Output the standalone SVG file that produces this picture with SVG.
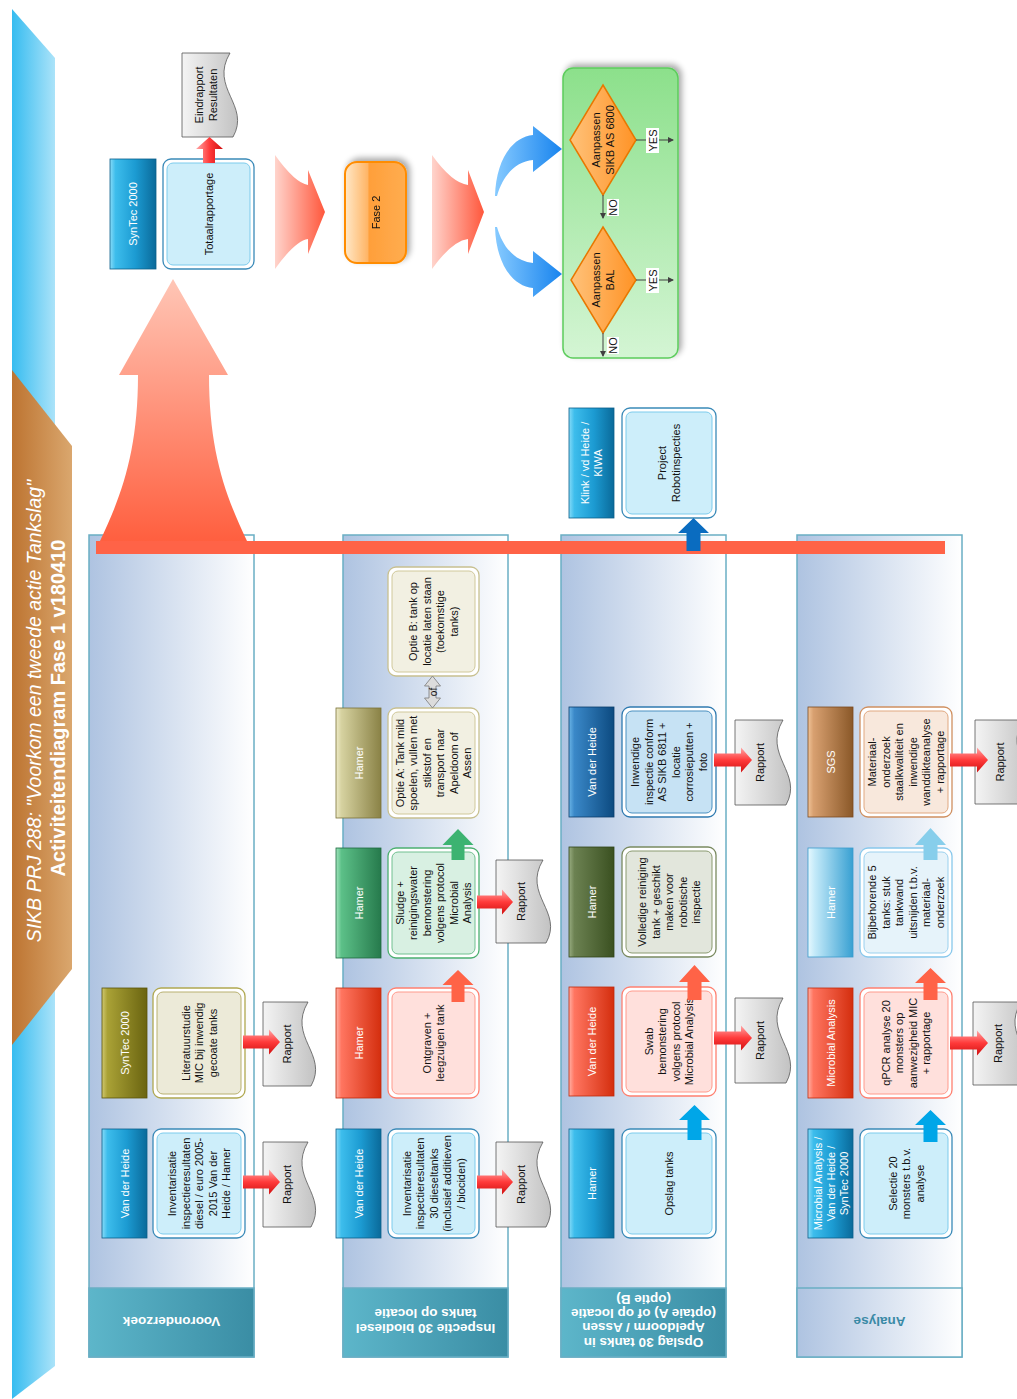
<svg xmlns="http://www.w3.org/2000/svg" width="1017" height="1399" viewBox="0 0 1017 1399">
<defs>
<linearGradient id="gBand" x1="0" x2="1" y1="0" y2="0"><stop offset="0" stop-color="#36bcf0"/><stop offset="1" stop-color="#abe3f9"/></linearGradient>
<linearGradient id="gBrown" x1="0" x2="1" y1="0" y2="0"><stop offset="0" stop-color="#bd7431"/><stop offset="1" stop-color="#daa76e"/></linearGradient>
<linearGradient id="gLane" x1="0" x2="1" y1="0" y2="0"><stop offset="0" stop-color="#aec3e1"/><stop offset="1" stop-color="#ffffff"/></linearGradient>
<linearGradient id="gHead" x1="0" x2="1" y1="0" y2="0"><stop offset="0" stop-color="#5db6ca"/><stop offset="1" stop-color="#3a8da4"/></linearGradient>
<linearGradient id="lBlue" x1="0" x2="1" y1="0" y2="0"><stop offset="0" stop-color="#86dbf8"/><stop offset="0.12" stop-color="#3dbdec"/><stop offset="0.55" stop-color="#1c9bd2"/><stop offset="1" stop-color="#0a6a9a"/></linearGradient>
<linearGradient id="lOlive" x1="0" x2="1" y1="0" y2="0"><stop offset="0" stop-color="#d0c870"/><stop offset="0.12" stop-color="#aaa236"/><stop offset="1" stop-color="#6a6410"/></linearGradient>
<linearGradient id="lRed" x1="0" x2="1" y1="0" y2="0"><stop offset="0" stop-color="#ffb0a4"/><stop offset="0.12" stop-color="#ff7560"/><stop offset="1" stop-color="#d42e0e"/></linearGradient>
<linearGradient id="lGreen" x1="0" x2="1" y1="0" y2="0"><stop offset="0" stop-color="#a0e4bc"/><stop offset="0.12" stop-color="#5cc088"/><stop offset="1" stop-color="#267a4c"/></linearGradient>
<linearGradient id="lKhaki" x1="0" x2="1" y1="0" y2="0"><stop offset="0" stop-color="#eeebc8"/><stop offset="0.12" stop-color="#d6d2a0"/><stop offset="1" stop-color="#8a8246"/></linearGradient>
<linearGradient id="lDkOlive" x1="0" x2="1" y1="0" y2="0"><stop offset="0" stop-color="#98ac80"/><stop offset="0.12" stop-color="#6c8252"/><stop offset="1" stop-color="#3a5020"/></linearGradient>
<linearGradient id="lDkBlue" x1="0" x2="1" y1="0" y2="0"><stop offset="0" stop-color="#6ab4e6"/><stop offset="0.12" stop-color="#3a88c8"/><stop offset="1" stop-color="#0c4a80"/></linearGradient>
<linearGradient id="lLtBlue" x1="0" x2="1" y1="0" y2="0"><stop offset="0" stop-color="#e6f8fe"/><stop offset="0.15" stop-color="#c4eaf9"/><stop offset="1" stop-color="#38a0d2"/></linearGradient>
<linearGradient id="lBrown" x1="0" x2="1" y1="0" y2="0"><stop offset="0" stop-color="#f0c498"/><stop offset="0.12" stop-color="#d8a070"/><stop offset="1" stop-color="#8a5828"/></linearGradient>
<linearGradient id="gDoc" x1="0" x2="1" y1="0" y2="0"><stop offset="0" stop-color="#f4f4f4"/><stop offset="1" stop-color="#c2c2c2"/></linearGradient>
<linearGradient id="gRed" x1="0" x2="0" y1="0" y2="1"><stop offset="0" stop-color="#ffa8a8"/><stop offset="0.5" stop-color="#ff3a3a"/><stop offset="1" stop-color="#d01010"/></linearGradient>
<linearGradient id="gRedV" x1="0" x2="1" y1="0" y2="0"><stop offset="0" stop-color="#ffa8a8"/><stop offset="0.5" stop-color="#ff3a3a"/><stop offset="1" stop-color="#d01010"/></linearGradient>
<linearGradient id="gPink" x1="0" x2="1" y1="0" y2="0"><stop offset="0" stop-color="#ffd4cc"/><stop offset="1" stop-color="#ff573c"/></linearGradient>
<linearGradient id="gBig" x1="0" x2="0" y1="0" y2="1"><stop offset="0" stop-color="#ffc6b6"/><stop offset="1" stop-color="#ff5f3f"/></linearGradient>
<linearGradient id="gBlueArr" x1="0" x2="1" y1="0" y2="0"><stop offset="0" stop-color="#86caff"/><stop offset="1" stop-color="#1884ee"/></linearGradient>
<linearGradient id="gFase" x1="0" x2="1" y1="0" y2="0"><stop offset="0" stop-color="#ffe8c8"/><stop offset="0.38" stop-color="#ffb464"/><stop offset="0.39" stop-color="#ff9f3a"/><stop offset="1" stop-color="#ffad50"/></linearGradient>
<linearGradient id="gGreen" x1="0" x2="0" y1="0" y2="1"><stop offset="0" stop-color="#8ce08b"/><stop offset="1" stop-color="#d4f5d4"/></linearGradient>
<linearGradient id="gDiam" x1="0" x2="1" y1="0" y2="0"><stop offset="0" stop-color="#ffc27a"/><stop offset="1" stop-color="#ff9326"/></linearGradient>
<filter id="sh" x="-20%" y="-20%" width="140%" height="140%"><feGaussianBlur in="SourceAlpha" stdDeviation="3"/><feOffset dx="3" dy="-3"/><feComponentTransfer><feFuncA type="linear" slope="0.35"/></feComponentTransfer><feMerge><feMergeNode/><feMergeNode in="SourceGraphic"/></feMerge></filter>
<marker id="ah" markerWidth="6" markerHeight="6" refX="5" refY="3" orient="auto" markerUnits="userSpaceOnUse"><path d="M0,0 L6,3 L0,6 Z" fill="#404040"/></marker>
<style>
.lane{fill:url(#gLane);stroke:#6aaec4;stroke-width:1.5}
.lhead{fill:url(#gHead);stroke:#6aaec4;stroke-width:1.5}
.lbl{stroke-width:0.8}
.ob{fill:#fff;stroke-width:1.3}
.ib{stroke-width:1}
.doc{fill:url(#gDoc);stroke:#555;stroke-width:0.8}
.ra{fill:url(#gRed)}
.t{font-family:"Liberation Sans",Arial,sans-serif;font-size:11px;fill:#111;text-anchor:middle}
.lt{font-family:"Liberation Sans",Arial,sans-serif;font-size:11px;fill:#fff;text-anchor:middle}
.ht{font-family:"Liberation Sans",Arial,sans-serif;font-size:13.5px;font-weight:bold;fill:#fff;text-anchor:middle}
.yn{font-family:"Liberation Sans",Arial,sans-serif;font-size:11px;fill:#111;text-anchor:middle}
.ln{fill:none;stroke:#404040;stroke-width:1}
</style>
</defs>

<g id="title-banner">
<polygon points="12,9 55,58 55,1366 12,1399" fill="url(#gBand)"/>
<polygon points="12,370 72,446 72,969 12,1045" fill="url(#gBrown)"/>
<text transform="translate(41,711) rotate(-90)" font-family="Liberation Sans, Arial, sans-serif" font-size="19.5" font-style="italic" fill="#fff" text-anchor="middle">SIKB PRJ 288: &quot;Voorkom een tweede actie Tankslag&quot;</text>
<text transform="translate(65,708) rotate(-90)" font-family="Liberation Sans, Arial, sans-serif" font-size="20" font-weight="bold" fill="#fff" text-anchor="middle">Activiteitendiagram Fase 1 v180410</text>
</g>

<g id="lanes">
<g id="lane-vooronderzoek">
<rect class="lane" x="89" y="535" width="165" height="822"/>
<rect class="lhead" x="89" y="1288" width="165" height="69"/>
<text class="ht" transform="translate(171.5,1322) rotate(180)" y="5">Vooronderzoek</text>
</g>
<g id="lane-inspectie">
<rect class="lane" x="343" y="535" width="165" height="822"/>
<rect class="lhead" x="343" y="1288" width="165" height="69"/>
<text class="ht" transform="translate(425.5,1322) rotate(180)"><tspan x="0" y="-2">Inspectie 30 biodiesel</tspan><tspan x="0" y="13">tanks op locatie</tspan></text>
</g>
<g id="lane-opslag">
<rect class="lane" x="561" y="535" width="165" height="822"/>
<rect class="lhead" x="561" y="1288" width="165" height="69"/>
<text class="ht" transform="translate(643.5,1321) rotate(180)"><tspan x="0" y="-16.5">Opslag 30 tanks in</tspan><tspan x="0" y="-2.2">Apeldoorm / Assen</tspan><tspan x="0" y="12.1">(optaie A) of op locatie</tspan><tspan x="0" y="26.4">(optie B)</tspan></text>
</g>
<g id="lane-analyse">
<rect class="lane" x="797" y="535" width="165" height="822"/>
<rect x="797" y="1288" width="165" height="69" fill="url(#gLane)" stroke="#6aaec4" stroke-width="1.5"/>
<text class="ht" style="fill:#3a8aa6" transform="translate(879.5,1322) rotate(180)" y="5">Analyse</text>
</g>
</g>

<g id="connectors-back">
<path d="M173,279 L228,375 L209,375 C209,450 225,495 247,541 L100,541 C122,495 138,450 138,375 L119,375 Z" fill="url(#gBig)"/>
<rect x="96" y="541" width="849" height="13" fill="#ff6347"/>
</g>

<!-- top nodes -->
<g id="lbl-syntec-top"><rect class="lbl" x="110" y="159" width="46" height="110" fill="url(#lBlue)" stroke="#0b5f8a"/><text class="lt" transform="translate(133,214) rotate(-90)" y="4">SynTec 2000</text></g>
<g id="n-totaalrapportage"><rect class="ob" x="163" y="159" width="91" height="110" rx="8" stroke="#3a8ab8"/><rect class="ib" x="167" y="163" width="83" height="102" rx="6" fill="#cdeefa" stroke="#7ccbec"/><text class="t" transform="translate(208.5,214) rotate(-90)" y="4">Totaalrapportage</text></g>
<g id="n-eindrapport"><path class="doc" d="M182,53 H230 C209,88.3 251,105.1 233,137 H182 Z"/><text class="t" transform="translate(206,95) rotate(-90)"><tspan x="0" y="-2.75">Eindrapport</tspan><tspan x="0" y="10.75">Resultaten</tspan></text></g>
<g id="n-fase2" filter="url(#sh)"><rect x="345" y="162" width="61" height="101" rx="12" fill="url(#gFase)" stroke="#ff8c00" stroke-width="2"/><text class="t" transform="translate(375.5,212.5) rotate(-90)" y="4">Fase 2</text></g>
<g id="n-besluit" filter="url(#sh)"><rect x="563" y="68" width="115" height="290" rx="10" fill="url(#gGreen)" stroke="#5ccc5c" stroke-width="1.5"/></g>
<g id="n-sikb6800"><polygon points="603,85 636,140 603,195 570,140" fill="url(#gDiam)" stroke="#e87800" stroke-width="1.5"/><text class="t" transform="translate(603,140) rotate(-90)"><tspan x="0" y="-3">Aanpassen</tspan><tspan x="0" y="11">SIKB AS 6800</tspan></text></g>
<g id="n-bal"><polygon points="603,227 636,280 603,333 571,280" fill="url(#gDiam)" stroke="#e87800" stroke-width="1.5"/><text class="t" transform="translate(603,280) rotate(-90)"><tspan x="0" y="-3">Aanpassen</tspan><tspan x="0" y="11">BAL</tspan></text></g>

<!-- lane 1 -->
<g id="lbl-l1-vdh"><rect class="lbl" x="102" y="1129" width="45" height="109" fill="url(#lBlue)" stroke="#0b5f8a"/><text class="lt" transform="translate(124.5,1183.5) rotate(-90)" y="4">Van der Heide</text></g>
<g id="n-l1-inventarisatie"><rect class="ob" x="153" y="1129" width="92" height="109" rx="8" stroke="#3a8ab8"/><rect class="ib" x="157" y="1133" width="84" height="101" rx="6" fill="#cdeefa" stroke="#7ccbec"/><text class="t" transform="translate(199,1183.5) rotate(-90)"><tspan x="0" y="-23">Inventarisatie</tspan><tspan x="0" y="-9.5">inspectieresultaten</tspan><tspan x="0" y="4">diesel / euro 2005-</tspan><tspan x="0" y="17.5">2015 Van der</tspan><tspan x="0" y="31">Heide / Hamer</tspan></text></g>
<g id="n-l1-rapport1"><path class="doc" d="M263,1142 H308 C287,1177.7 329,1194.7 311,1227 H263 Z"/><text class="t" transform="translate(287,1184.5) rotate(-90)" y="4">Rapport</text></g>
<g id="lbl-l1-syntec"><rect class="lbl" x="102" y="988" width="45" height="110" fill="url(#lOlive)" stroke="#5a5408"/><text class="lt" transform="translate(124.5,1043) rotate(-90)" y="4">SynTec 2000</text></g>
<g id="n-l1-literatuur"><rect class="ob" x="153" y="988" width="92" height="110" rx="8" stroke="#b0a850"/><rect class="ib" x="157" y="992" width="84" height="102" rx="6" fill="#ecead8" stroke="#b8b070"/><text class="t" transform="translate(199,1043) rotate(-90)"><tspan x="0" y="-9.5">Literatuurstudie</tspan><tspan x="0" y="4">MIC bij inwendig</tspan><tspan x="0" y="17.5">gecoate tanks</tspan></text></g>
<g id="n-l1-rapport2"><path class="doc" d="M263,1002 H308 C287,1037.3 329,1054.1 311,1086 H263 Z"/><text class="t" transform="translate(287,1044) rotate(-90)" y="4">Rapport</text></g>

<!-- lane 2 -->
<g id="lbl-l2-vdh"><rect class="lbl" x="336" y="1129" width="45" height="109" fill="url(#lBlue)" stroke="#0b5f8a"/><text class="lt" transform="translate(358.5,1183.5) rotate(-90)" y="4">Van der Heide</text></g>
<g id="n-l2-inventarisatie"><rect class="ob" x="388" y="1129" width="91" height="109" rx="8" stroke="#3a8ab8"/><rect class="ib" x="392" y="1133" width="83" height="101" rx="6" fill="#cdeefa" stroke="#7ccbec"/><text class="t" transform="translate(433.5,1183.5) rotate(-90)"><tspan x="0" y="-23">Inventarisatie</tspan><tspan x="0" y="-9.5">inspectieresultaten</tspan><tspan x="0" y="4">30 dieseltanks</tspan><tspan x="0" y="17.5">(inclusief additieven</tspan><tspan x="0" y="31">/ biociden)</tspan></text></g>
<g id="n-l2-rapport1"><path class="doc" d="M496,1142 H543 C522,1177.7 564,1194.7 546,1227 H496 Z"/><text class="t" transform="translate(521,1184.5) rotate(-90)" y="4">Rapport</text></g>
<g id="lbl-l2-hamer1"><rect class="lbl" x="336" y="988" width="45" height="110" fill="url(#lRed)" stroke="#c02a0a"/><text class="lt" transform="translate(358.5,1043) rotate(-90)" y="4">Hamer</text></g>
<g id="n-l2-ontgraven"><rect class="ob" x="388" y="988" width="91" height="110" rx="8" stroke="#ff8070"/><rect class="ib" x="392" y="992" width="83" height="102" rx="6" fill="#ffe0dc" stroke="#ff9a8c"/><text class="t" transform="translate(433.5,1043) rotate(-90)"><tspan x="0" y="-2.75">Ontgraven +</tspan><tspan x="0" y="10.75">leegzuigen tank</tspan></text></g>
<g id="lbl-l2-hamer2"><rect class="lbl" x="336" y="848" width="45" height="110" fill="url(#lGreen)" stroke="#1f6a40"/><text class="lt" transform="translate(358.5,903) rotate(-90)" y="4">Hamer</text></g>
<g id="n-l2-sludge"><rect class="ob" x="388" y="848" width="91" height="110" rx="8" stroke="#4cb070"/><rect class="ib" x="392" y="852" width="83" height="102" rx="6" fill="#d8f0e2" stroke="#70c090"/><text class="t" transform="translate(433.5,903) rotate(-90)"><tspan x="0" y="-29.75">Sludge +</tspan><tspan x="0" y="-16.25">reinigingswater</tspan><tspan x="0" y="-2.75">bemonstering</tspan><tspan x="0" y="10.75">volgens protocol</tspan><tspan x="0" y="24.25">Microbial</tspan><tspan x="0" y="37.75">Analysis</tspan></text></g>
<g id="n-l2-rapport2"><path class="doc" d="M496,860 H543 C522,894.9 564,911.5 546,943 H496 Z"/><text class="t" transform="translate(521,901.5) rotate(-90)" y="4">Rapport</text></g>
<g id="lbl-l2-hamer3"><rect class="lbl" x="336" y="708" width="45" height="110" fill="url(#lKhaki)" stroke="#7a7238"/><text class="lt" transform="translate(358.5,763) rotate(-90)" y="4">Hamer</text></g>
<g id="n-l2-optieA"><rect class="ob" x="388" y="708" width="91" height="110" rx="8" stroke="#c8c090"/><rect class="ib" x="392" y="712" width="83" height="102" rx="6" fill="#f2f0e2" stroke="#d0c89a"/><text class="t" transform="translate(433.5,763) rotate(-90)"><tspan x="0" y="-29.75">Optie A: Tank mild</tspan><tspan x="0" y="-16.25">spoelen, vullen met</tspan><tspan x="0" y="-2.75">stikstof en</tspan><tspan x="0" y="10.75">transport naar</tspan><tspan x="0" y="24.25">Apeldoom of</tspan><tspan x="0" y="37.75">Assen</tspan></text></g>
<g id="n-l2-optieB"><rect class="ob" x="388" y="567" width="91" height="109" rx="8" stroke="#c8c090"/><rect class="ib" x="392" y="571" width="83" height="101" rx="6" fill="#f2f0e2" stroke="#d0c89a"/><text class="t" transform="translate(433.5,621.5) rotate(-90)"><tspan x="0" y="-16.25">Optie B: tank op</tspan><tspan x="0" y="-2.75">locatie laten staan</tspan><tspan x="0" y="10.75">(toekomstige</tspan><tspan x="0" y="24.25">tanks)</tspan></text></g>

<!-- lane 3 -->
<g id="lbl-l3-hamer1"><rect class="lbl" x="569" y="1129" width="45" height="109" fill="url(#lBlue)" stroke="#0b5f8a"/><text class="lt" transform="translate(591.5,1183.5) rotate(-90)" y="4">Hamer</text></g>
<g id="n-l3-opslag"><rect class="ob" x="622" y="1129" width="94" height="109" rx="8" stroke="#3a8ab8"/><rect class="ib" x="626" y="1133" width="86" height="101" rx="6" fill="#cdeefa" stroke="#7ccbec"/><text class="t" transform="translate(669,1183.5) rotate(-90)" y="4">Opslag tanks</text></g>
<g id="lbl-l3-vdh1"><rect class="lbl" x="569" y="987" width="45" height="109" fill="url(#lRed)" stroke="#c02a0a"/><text class="lt" transform="translate(591.5,1041.5) rotate(-90)" y="4">Van der Heide</text></g>
<g id="n-l3-swab"><rect class="ob" x="622" y="987" width="94" height="109" rx="8" stroke="#ff8070"/><rect class="ib" x="626" y="991" width="86" height="101" rx="6" fill="#ffe0dc" stroke="#ff9a8c"/><text class="t" transform="translate(669,1041.5) rotate(-90)"><tspan x="0" y="-16.25">Swab</tspan><tspan x="0" y="-2.75">bemonstering</tspan><tspan x="0" y="10.75">volgens protocol</tspan><tspan x="0" y="24.25">Microbial Analysis</tspan></text></g>
<g id="n-l3-rapport1"><path class="doc" d="M735,998 H783 C762,1033.7 804,1050.7 786,1083 H735 Z"/><text class="t" transform="translate(760,1040.5) rotate(-90)" y="4">Rapport</text></g>
<g id="lbl-l3-hamer2"><rect class="lbl" x="569" y="847" width="45" height="110" fill="url(#lDkOlive)" stroke="#304418"/><text class="lt" transform="translate(591.5,902) rotate(-90)" y="4">Hamer</text></g>
<g id="n-l3-reiniging"><rect class="ob" x="622" y="847" width="94" height="110" rx="8" stroke="#7a8a60"/><rect class="ib" x="626" y="851" width="86" height="102" rx="6" fill="#e2e6dc" stroke="#8a9a70"/><text class="t" transform="translate(669,902) rotate(-90)"><tspan x="0" y="-23">Volledige reiniging</tspan><tspan x="0" y="-9.5">tank + geschikt</tspan><tspan x="0" y="4">maken voor</tspan><tspan x="0" y="17.5">robotische</tspan><tspan x="0" y="31">inspectie</tspan></text></g>
<g id="lbl-l3-vdh2"><rect class="lbl" x="569" y="707" width="45" height="110" fill="url(#lDkBlue)" stroke="#0a3e6c"/><text class="lt" transform="translate(591.5,762) rotate(-90)" y="4">Van der Heide</text></g>
<g id="n-l3-inwendige"><rect class="ob" x="622" y="707" width="94" height="110" rx="8" stroke="#2f7ab0"/><rect class="ib" x="626" y="711" width="86" height="102" rx="6" fill="#c6e2f4" stroke="#4a90c0"/><text class="t" transform="translate(669,762) rotate(-90)"><tspan x="0" y="-29.75">Inwendige</tspan><tspan x="0" y="-16.25">inspectie conform</tspan><tspan x="0" y="-2.75">AS SIKB 6811 +</tspan><tspan x="0" y="10.75">locatie</tspan><tspan x="0" y="24.25">corrosieputten +</tspan><tspan x="0" y="37.75">foto</tspan></text></g>
<g id="n-l3-rapport2"><path class="doc" d="M735,720 H783 C762,755.7 804,772.7 786,805 H735 Z"/><text class="t" transform="translate(760,762.5) rotate(-90)" y="4">Rapport</text></g>
<g id="lbl-l3-klink"><rect class="lbl" x="569" y="408" width="45" height="110" fill="url(#lBlue)" stroke="#0b5f8a"/><text class="lt" transform="translate(591.5,463) rotate(-90)"><tspan x="0" y="-2.5">Klink / vd Heide /</tspan><tspan x="0" y="10.5">KIWA</tspan></text></g>
<g id="n-l3-robot"><rect class="ob" x="622" y="408" width="94" height="110" rx="8" stroke="#3a8ab8"/><rect class="ib" x="626" y="412" width="86" height="102" rx="6" fill="#cdeefa" stroke="#7ccbec"/><text class="t" transform="translate(669,463) rotate(-90)"><tspan x="0" y="-2.75">Project</tspan><tspan x="0" y="10.75">Robotinspecties</tspan></text></g>

<!-- lane 4 -->
<g id="lbl-l4-combi"><rect class="lbl" x="808" y="1129" width="45" height="109" fill="url(#lBlue)" stroke="#0b5f8a"/><text class="lt" transform="translate(830.5,1183.5) rotate(-90)"><tspan x="0" y="-9">Microbial Analysis /</tspan><tspan x="0" y="4">Van der Heide /</tspan><tspan x="0" y="17">SynTec 2000</tspan></text></g>
<g id="n-l4-selectie"><rect class="ob" x="860" y="1129" width="92" height="109" rx="8" stroke="#3a8ab8"/><rect class="ib" x="864" y="1133" width="84" height="101" rx="6" fill="#cdeefa" stroke="#7ccbec"/><text class="t" transform="translate(906,1183.5) rotate(-90)"><tspan x="0" y="-9.5">Selectie 20</tspan><tspan x="0" y="4">monsters t.b.v.</tspan><tspan x="0" y="17.5">analyse</tspan></text></g>
<g id="lbl-l4-ma"><rect class="lbl" x="808" y="988" width="45" height="110" fill="url(#lRed)" stroke="#c02a0a"/><text class="lt" transform="translate(830.5,1043) rotate(-90)" y="4">Microbial Analysis</text></g>
<g id="n-l4-qpcr"><rect class="ob" x="860" y="988" width="92" height="110" rx="8" stroke="#ff8070"/><rect class="ib" x="864" y="992" width="84" height="102" rx="6" fill="#ffe0dc" stroke="#ff9a8c"/><text class="t" transform="translate(906,1043) rotate(-90)"><tspan x="0" y="-16.25">qPCR analyse 20</tspan><tspan x="0" y="-2.75">monsters op</tspan><tspan x="0" y="10.75">aanwezigheid MIC</tspan><tspan x="0" y="24.25">+ rapportage</tspan></text></g>
<g id="n-l4-rapport1"><path class="doc" d="M973,1002 H1021 C1000,1036.9 1042,1053.5 1024,1085 H973 Z"/><text class="t" transform="translate(998,1043.5) rotate(-90)" y="4">Rapport</text></g>
<g id="lbl-l4-hamer"><rect class="lbl" x="808" y="848" width="45" height="109" fill="url(#lLtBlue)" stroke="#3a9ccc"/><text class="lt" transform="translate(830.5,902.5) rotate(-90)" y="4">Hamer</text></g>
<g id="n-l4-uitsnijden"><rect class="ob" x="860" y="848" width="92" height="109" rx="8" stroke="#88c8ec"/><rect class="ib" x="864" y="852" width="84" height="101" rx="6" fill="#e6f3fa" stroke="#9ad0ee"/><text class="t" transform="translate(906,902.5) rotate(-90)"><tspan x="0" y="-29.75">Bijbehorende 5</tspan><tspan x="0" y="-16.25">tanks: stuk</tspan><tspan x="0" y="-2.75">tankwand</tspan><tspan x="0" y="10.75">uitsnijden t.b.v.</tspan><tspan x="0" y="24.25">materiaal-</tspan><tspan x="0" y="37.75">onderzoek</tspan></text></g>
<g id="lbl-l4-sgs"><rect class="lbl" x="808" y="707" width="45" height="110" fill="url(#lBrown)" stroke="#7a4a20"/><text class="lt" transform="translate(830.5,762) rotate(-90)" y="4">SGS</text></g>
<g id="n-l4-materiaal"><rect class="ob" x="860" y="707" width="92" height="110" rx="8" stroke="#d09060"/><rect class="ib" x="864" y="711" width="84" height="102" rx="6" fill="#f8e8dc" stroke="#e0a880"/><text class="t" transform="translate(906,762) rotate(-90)"><tspan x="0" y="-29.75">Materiaal-</tspan><tspan x="0" y="-16.25">onderzoek</tspan><tspan x="0" y="-2.75">staalkwaliteit en</tspan><tspan x="0" y="10.75">inwendige</tspan><tspan x="0" y="24.25">wanddikteanalyse</tspan><tspan x="0" y="37.75">+ rapportage</tspan></text></g>
<g id="n-l4-rapport2"><path class="doc" d="M975,720 H1023 C1002,755.3 1044,772.1 1026,804 H975 Z"/><text class="t" transform="translate(1000,762) rotate(-90)" y="4">Rapport</text></g>

<g id="connectors">
<path class="ra" d="M243,1175.5 H269 V1169.5 L280,1182 L269,1194.5 V1188.5 H243 Z"/>
<path class="ra" d="M243,1035.5 H269 V1029.5 L280,1042 L269,1054.5 V1048.5 H243 Z"/>
<path class="ra" d="M477,1175.5 H502 V1169.5 L513,1182 L502,1194.5 V1188.5 H477 Z"/>
<path class="ra" d="M477,895.5 H502 V889.5 L513,902 L502,914.5 V908.5 H477 Z"/>
<path class="ra" d="M714,1031.5 H741 V1025.5 L752,1038 L741,1050.5 V1044.5 H714 Z"/>
<path class="ra" d="M714,753.5 H741 V747.5 L752,760 L741,772.5 V766.5 H714 Z"/>
<path class="ra" d="M950,1036.5 H977 V1030.5 L988,1043 L977,1055.5 V1049.5 H950 Z"/>
<path class="ra" d="M950,753.5 H977 V747.5 L988,760 L977,772.5 V766.5 H950 Z"/>
<path d="M203,163 V149 H196 L209.5,137 L223,149 H215 V163 Z" fill="url(#gRedV)"/>
<path d="M458,970 L473.5,985 H464.5 V1002 H451.5 V985 H442.5 Z" fill="#ff6347"/>
<path d="M458,829 L473.5,845 H464.5 V860 H451.5 V845 H442.5 Z" fill="#3cb371"/>
<path d="M694.5,1105 L710,1120 H701.5 V1140 H687.5 V1120 H679 Z" fill="#00a6e8"/>
<path d="M694.5,965 L710,982 H701.5 V1000 H687.5 V982 H679 Z" fill="#ff6347"/>
<path d="M693.5,518 L709,533 H700.5 V551 H686.5 V533 H678 Z" fill="#0a6cc0"/>
<path d="M930.5,1110 L946,1125 H937.5 V1142 H923.5 V1125 H915 Z" fill="#00a6e8"/>
<path d="M930.5,968 L946,983 H937.5 V1000 H923.5 V983 H915 Z" fill="#ff6347"/>
<path d="M930.5,828 L946,845 H937.5 V860 H923.5 V845 H915 Z" fill="#87ceeb"/>
<path d="M432.5,676 L440.5,686 H436 V698 H440.5 L432.5,708 L424.5,698 H429 V686 H424.5 Z" fill="#dcdcdc" stroke="#7a7a7a" stroke-width="0.8"/>
<text class="t" style="font-size:10px" transform="translate(433,692) rotate(-90)" y="3.5">of</text>
<path d="M275,155 Q295,183 308,185 L308,170 L325,212 L308,254 L308,239 Q295,241 275,269 Z" fill="url(#gPink)"/>
<path d="M432,155 Q452,183 468,185 L468,170 L484,212 L468,254 L468,239 Q452,241 432,269 Z" fill="url(#gPink)"/>
<path d="M495,196 C496,160 512,137 533,135 L533,126 L562,149 L533,172 L533,160 C515,162 503,175 497,196 Z" fill="url(#gBlueArr)"/>
<path d="M495,227 C496,263 512,286 533,288 L533,297 L562,274 L533,251 L533,263 C515,261 503,248 497,227 Z" fill="url(#gBlueArr)"/>
<path class="ln" d="M636,140 H673" marker-end="url(#ah)"/>
<path class="ln" d="M603,195 V218" marker-end="url(#ah)"/>
<path class="ln" d="M636,280 H673" marker-end="url(#ah)"/>
<path class="ln" d="M603,333 V356" marker-end="url(#ah)"/>
<rect x="646" y="128" width="13" height="25" fill="#fff"/>
<text class="yn" transform="translate(652.5,140.5) rotate(-90)" y="4">YES</text>
<rect x="607" y="199" width="12" height="17" fill="#fff"/>
<text class="yn" transform="translate(613,207.5) rotate(-90)" y="4">NO</text>
<rect x="646" y="268" width="13" height="25" fill="#fff"/>
<text class="yn" transform="translate(652.5,280.5) rotate(-90)" y="4">YES</text>
<rect x="607" y="337" width="12" height="17" fill="#fff"/>
<text class="yn" transform="translate(613,345.5) rotate(-90)" y="4">NO</text>
</g>
</svg>
